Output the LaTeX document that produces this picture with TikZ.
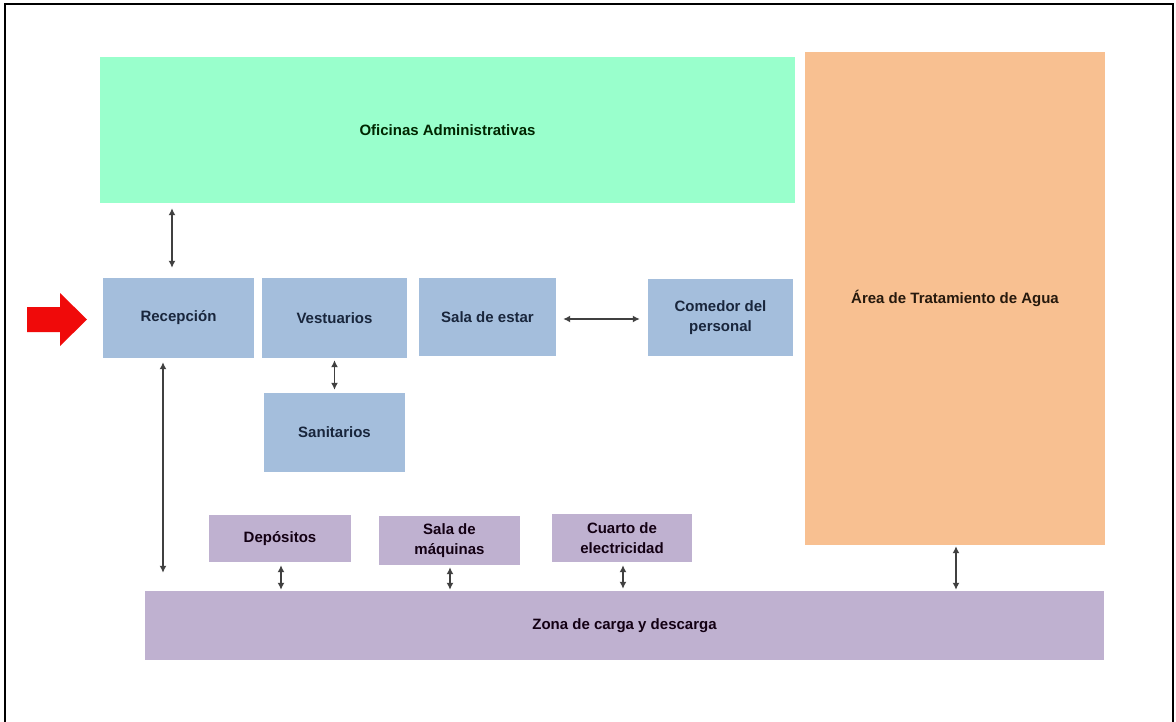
\documentclass[tikz,border=0pt]{standalone}
\usepackage{fontspec}
\setmainfont{Liberation Sans}
\usetikzlibrary{arrows.meta}
\definecolor{mint}{RGB}{153,255,204}
\definecolor{peach}{RGB}{248,192,145}
\definecolor{steel}{RGB}{164,190,220}
\definecolor{lilac}{RGB}{191,177,208}
\definecolor{navy}{RGB}{25,38,60}
\definecolor{redarrow}{RGB}{240,10,10}
\begin{document}
\begin{tikzpicture}[x=1pt,y=-1pt,
  box/.style={draw=none, inner sep=2pt, align=center, font=\fontsize{15}{20}\selectfont\bfseries},
  greenbox/.style={box, fill=mint, text=black!85!green},
  orangebox/.style={box, fill=peach, text=black!80!brown},
  bluebox/.style={box, fill=steel, text=navy},
  purplebox/.style={box, fill=lilac, text=black!85!violet},
  link/.style={draw=black!75, line width=1.8pt, {Latex[length=7pt,width=7pt]}-{Latex[length=7pt,width=7pt]}}]
\useasboundingbox (0,0) rectangle (1176,721);
\fill[white] (0,0) rectangle (1176,721);
\draw[black, line width=2pt] (5,722) -- (5,4) -- (1173,4) -- (1173,722);

\node[greenbox, minimum width=695pt, minimum height=146pt] (ofi) at (447.5,130) {Oficinas Administrativas};
\node[orangebox, minimum width=300pt, minimum height=493pt] (agua) at (955,298.5) {Área de Tratamiento de Agua};
\node[bluebox, minimum width=151pt, minimum height=80pt] (rec) at (178.5,318) {Recepción};
\node[bluebox, minimum width=145pt, minimum height=80pt] (ves) at (334.5,318) {Vestuarios};
\node[bluebox, minimum width=141pt, minimum height=79pt] (san) at (334.5,432.5) {Sanitarios};
\node[bluebox, minimum width=137pt, minimum height=78pt] (sala) at (487.5,317) {Sala de estar};
\node[bluebox, minimum width=145pt, minimum height=77pt] (com) at (720.5,317.5) {Comedor del\\personal};
\node[purplebox, minimum width=142pt, minimum height=47pt] (dep) at (280,538.5) {Depósitos};
\node[purplebox, minimum width=141pt, minimum height=49pt] (maq) at (449.5,540.5) {Sala de\\máquinas};
\node[purplebox, minimum width=140pt, minimum height=48pt] (cua) at (622,538) {Cuarto de\\electricidad};
\node[purplebox, minimum width=959pt, minimum height=69pt] (zona) at (624.5,625.5) {Zona de carga y descarga};

\fill[redarrow] (27,307) -- (60,307) -- (60,293) -- (87,319.5) -- (60,346) -- (60,332) -- (27,332) -- cycle;

\draw[link] ([xshift=-275.5pt,yshift=-5pt]ofi.south) -- ([xshift=-6.5pt,yshift=10pt]rec.north);
\draw[link] ([xshift=-15.5pt,yshift=-4pt]rec.south) -- ([xshift=-461.5pt,yshift=18pt]zona.north);
\draw[link] ([yshift=-2pt]ves.south) -- ([yshift=3pt]san.north);
\draw[link] ([xshift=7pt,yshift=-2pt]sala.east) -- ([xshift=-8pt,yshift=-1.5pt]com.west);
\draw[link] ([xshift=1pt,yshift=-3pt]dep.south) -- ([xshift=-343.5pt,yshift=1pt]zona.north);
\draw[link] ([xshift=0.5pt,yshift=-2pt]maq.south) -- ([xshift=-174.5pt,yshift=1pt]zona.north);
\draw[link] ([xshift=1pt,yshift=-3pt]cua.south) -- ([xshift=-1.5pt,yshift=2pt]zona.north);
\draw[link] ([xshift=1pt,yshift=-1pt]agua.south) -- ([xshift=331.5pt,yshift=1pt]zona.north);
\end{tikzpicture}
\end{document}
